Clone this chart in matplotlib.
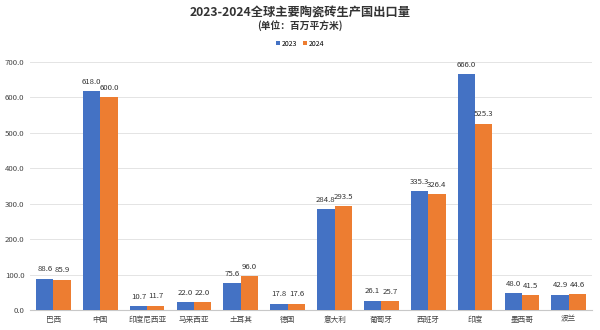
import matplotlib
matplotlib.use("Agg")
import matplotlib.pyplot as plt
import numpy as np

plt.rcParams['font.family'] = ['Noto Sans CJK SC', 'DejaVu Sans']

categories = ["巴西", "中国", "印度尼西亚", "马来西亚", "土耳其", "德国", "意大利", "葡萄牙", "西班牙", "印度", "墨西哥", "波兰"]
series_names = ["2023", "2024"]
values_2023 = [88.6, 618.0, 10.7, 22.0, 75.6, 17.8, 284.8, 26.1, 335.3, 666.0, 48.0, 42.9]
values_2024 = [85.9, 600.0, 11.7, 22.0, 96.0, 17.6, 293.5, 25.7, 326.4, 525.3, 41.5, 44.6]
yticks = [0, 100, 200, 300, 400, 500, 600, 700]

colors = ["#4472C4", "#ED7D31"]

fig = plt.figure(figsize=(6, 3.3), dpi=100)
ax = fig.add_axes([0.05, 0.06, 0.937, 0.752])

x = np.arange(len(categories))
w = 0.37
b1 = ax.bar(x - w/2, values_2023, w, color=colors[0], label=series_names[0], zorder=3)
b2 = ax.bar(x + w/2, values_2024, w, color=colors[1], label=series_names[1], zorder=3)

for bars, vals in ((b1, values_2023), (b2, values_2024)):
    for r, v in zip(bars, vals):
        ax.annotate(f"{v:.1f}", (r.get_x() + r.get_width()/2, v), xytext=(0, 4),
                    textcoords="offset points", ha="center", va="bottom",
                    fontsize=5.6, color="#333333")

ax.set_xlim(-0.5, len(categories) - 0.5)
ax.set_ylim(0, 700)
ax.set_yticks(yticks)
ax.set_yticklabels([f"{t:.1f}" for t in yticks], fontsize=5.6, color="#444444")
ax.set_xticks(x)
ax.set_xticklabels(categories, fontsize=5.5, color="#444444")
ax.tick_params(axis='both', length=0, pad=4)
ax.grid(axis='y', color="#e4e4e4", linewidth=0.7, zorder=0)
for s in ("top", "right", "left"):
    ax.spines[s].set_visible(False)
ax.spines["bottom"].set_color("#c8c8c8")
ax.spines["bottom"].set_linewidth(0.8)

fig.text(0.5, 0.962, "2023-2024全球主要陶瓷砖生产国出口量", ha="center", va="center",
         fontsize=8.8, fontweight="bold", color="#333333")
fig.text(0.5, 0.922, "(单位：百万平方米)", ha="center", va="center",
         fontsize=7, fontweight="bold", color="#333333")
fig.legend(handles=[b1, b2], labels=series_names, loc="center", bbox_to_anchor=(0.5, 0.868),
           ncol=2, frameon=False, fontsize=5, handlelength=0.6, handleheight=0.6,
           columnspacing=0.8, handletextpad=0.3)

fig.savefig("out.png", dpi=100)
